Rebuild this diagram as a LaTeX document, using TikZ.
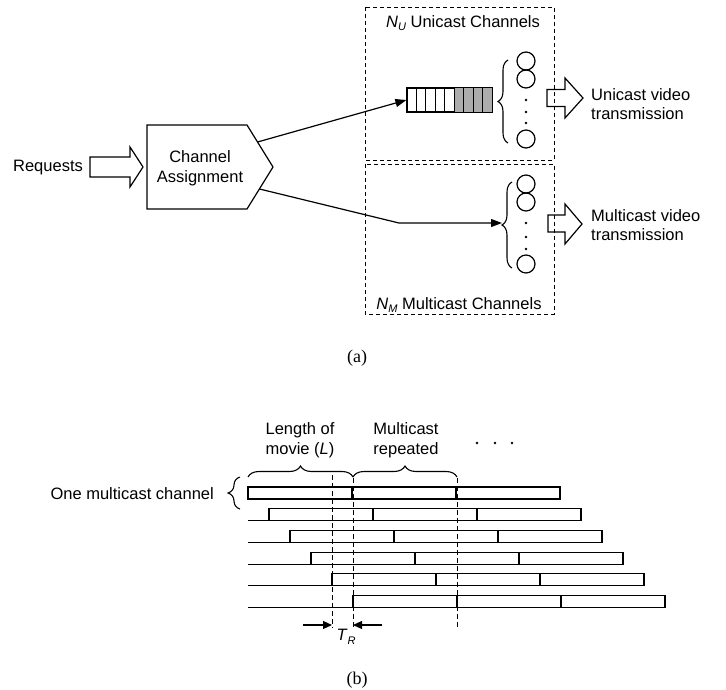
\documentclass[tikz,border=0pt]{standalone}
\usepackage{fontspec}
\setmainfont{Liberation Sans}
\newfontfamily\captionfont{Liberation Serif}
\usetikzlibrary{decorations.pathreplacing,arrows.meta}

\begin{document}
\begin{tikzpicture}[x=1pt,y=-1pt,
  line join=miter,
  lbl/.style={font=\fontsize{16.5}{19.5}\selectfont, inner sep=0pt, align=center},
  capt/.style={font=\captionfont\fontsize{18}{20}\selectfont, inner sep=0pt},
  chanframe/.style={line width=1pt, dash pattern=on 4pt off 3pt},
  outline/.style={line width=1.2pt},
  conn/.style={line width=1.2pt, -{Triangle[length=11pt,width=8pt]}},
  tick/.style={line width=1.1pt, -{Triangle[length=9pt,width=8pt]}},
  cbrace/.style={decorate, decoration={brace, amplitude=#1}, line width=1.1pt},
  chan/.style={circle, draw, minimum size=18pt, inner sep=0pt, line width=1.2pt},
  vguide/.style={line width=1pt, dash pattern=on 5pt off 3pt},
  rowline/.style={line width=1.2pt},
]
\useasboundingbox (0,0) rectangle (726,689);

% ---------- (a) channel assignment ----------
\node[lbl] (req) at (48,168) {Requests};
\draw[outline] (90,157) -- (130,157) -- (130,147) -- (143,167) -- (130,187)
  -- (130,177) -- (90,177) -- cycle;

\draw[outline] (147,125) -- (247,125) -- (273,167) -- (247,209) -- (147,209) -- cycle;
\node[lbl] (ca) at (200,168) {Channel\\Assignment};
\coordinate (caU) at (257.5,142);
\coordinate (caL) at (259.5,189);

% channel groups
\draw[chanframe] (365,7) rectangle (554,160);
\draw[chanframe] (365,164) rectangle (554,314);
\node[lbl] (ulabel) at (463,23)
  {\textit{N}\raisebox{-0.35ex}{\fontsize{11}{11}\selectfont\textit{U}} Unicast Channels};
\node[lbl] (mlabel) at (459,305)
  {\textit{N}\raisebox{-0.35ex}{\fontsize{11}{11}\selectfont\textit{M}} Multicast Channels};

% request queue
\node[draw, outline, minimum width=85pt, minimum height=24pt, inner sep=0pt]
  (queue) at (449.5,100) {};
\foreach \i in {5,...,8}
  \fill[gray!65] (407+\i*9.444,88) rectangle (407+\i*9.444+9.444,112);
\foreach \i in {1,...,8}
  \draw[line width=1pt] (407+\i*9.444,88) -- (407+\i*9.444,112);
\draw[outline] (queue.south west) rectangle (queue.north east);

% unicast channels
\node[chan] (u1) at (526,61) {};
\node[chan] (u2) at (526,79) {};
\node[chan] (u3) at (526,139) {};
\foreach \y in {100,112,123} \fill (526,\y) circle (1.4pt);
\draw[cbrace=10] (508,143) -- (508,60);

% multicast channels
\node[chan] (m1) at (526,184) {};
\node[chan] (m2) at (526,202) {};
\node[chan] (m3) at (526,264) {};
\foreach \y in {223,237,249} \fill (526,\y) circle (1.4pt);
\draw[cbrace=10] (512,268) -- (512,182);
\coordinate (mtip) at (502,223);
\coordinate (bend) at (399,223);

% assignment connectors
\draw[conn] (caU) -- (queue.west);
\draw[conn] (caL) -- (bend) -- (mtip);

% output block arrows
\draw[outline] (547,89.5) -- (565,89.5) -- (565,78) -- (583,98) -- (565,118)
  -- (565,106.5) -- (547,106.5) -- cycle;
\draw[outline] (548,215) -- (565,215) -- (565,204) -- (582,224) -- (565,244)
  -- (565,232) -- (548,232) -- cycle;
\node[lbl, anchor=west, align=left] (uout) at (591,104) {Unicast video\\transmission};
\node[lbl, anchor=west, align=left] (mout) at (591,225) {Multicast video\\transmission};

\node[capt] (capa) at (357,358) {(a)};

% ---------- (b) staggered multicast schedule ----------
\node[lbl] (lenlbl) at (300,440) {Length of\\movie (\textit{L})};
\node[lbl] (replbl) at (406,440) {Multicast\\repeated};
\foreach \x in {477,495,512} \fill (\x,443) circle (1.4pt);
\draw[cbrace=11] (248,477) -- (353,477);
\draw[cbrace=11] (353,477) -- (457,477);

\node[lbl, anchor=east] (onech) at (214,494) {One multicast channel};
\draw[cbrace=12] (240,509) -- (240,477);

\foreach \k in {0,...,5} {
  \pgfmathsetmacro\yb{499+21.7*\k}
  \pgfmathsetmacro\xs{248+21*\k}
  \draw[rowline] (248,\yb) -- (\xs,\yb);
  \foreach \j in {0,1,2}
    \draw[rowline] (\xs+\j*104,\yb-12) rectangle (\xs+\j*104+104,\yb);
}

\draw[vguide] (332,475) -- (332,628);
\draw[vguide] (353,478) -- (353,628);
\draw[vguide] (457,478) -- (457,628);
\coordinate (trL) at (332,625);
\coordinate (trR) at (353,625);
\draw[tick] (303,625) -- (trL);
\draw[tick] (382,625) -- (trR);
\node[lbl] (tr) at (346,637)
  {\textit{T}\raisebox{-0.4ex}{\fontsize{11}{11}\selectfont\textit{R}}};

\node[capt] (capb) at (357,680) {(b)};
\end{tikzpicture}
\end{document}
